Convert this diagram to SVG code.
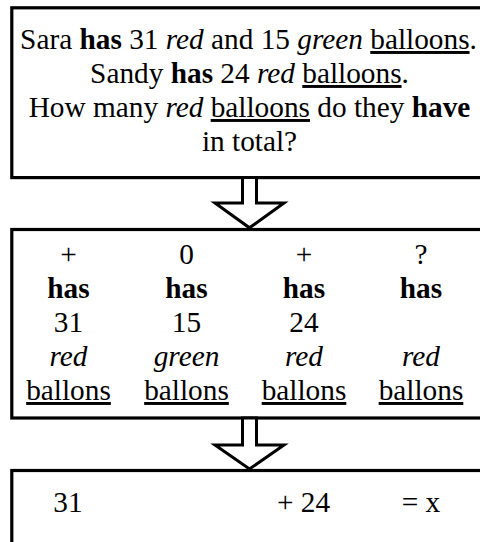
<svg xmlns="http://www.w3.org/2000/svg" width="480" height="542" viewBox="0 0 480 542">
<style>
text{font-size:29.3px;fill:#000;text-anchor:middle}
.b{font-weight:bold}
.i{font-style:italic}
.u{text-decoration:underline}
.box{fill:#fff;stroke:#000;stroke-width:3.2}
.arrow{fill:#fff;stroke:#000;stroke-width:3;stroke-linejoin:miter}
</style>
<rect width="480" height="542" fill="#fff"/>
<g font-family="'Liberation Serif', 'Times New Roman', 'DejaVu Serif', serif">
<g id="node-problem">
<rect class="box" x="11.8" y="7.8" width="476" height="169.8"/>
<text x="248.5" y="49">Sara <tspan class="b">has</tspan> 31 <tspan class="i">red</tspan> and 15 <tspan class="i">green</tspan> <tspan class="u">balloons</tspan>.</text>
<text x="249.5" y="83">Sandy <tspan class="b">has</tspan> 24 <tspan class="i">red</tspan> <tspan class="u">balloons</tspan>.</text>
<text x="249.5" y="117">How many <tspan class="i">red</tspan> <tspan class="u">balloons</tspan> do they <tspan class="b">have</tspan></text>
<text x="249.5" y="151">in total?</text>
</g>
<g id="node-table">
<rect class="box" x="11.8" y="229.5" width="476" height="188.5"/>
<g id="col1">
<text x="68.5" y="264">+</text>
<text x="68.5" y="298" class="b">has</text>
<text x="68.5" y="332">31</text>
<text x="68.5" y="366" class="i">red</text>
<text x="68.5" y="400" class="u">ballons</text>
</g>
<g id="col2">
<text x="186.5" y="264">0</text>
<text x="186.5" y="298" class="b">has</text>
<text x="186.5" y="332">15</text>
<text x="186.5" y="366" class="i">green</text>
<text x="186.5" y="400" class="u">ballons</text>
</g>
<g id="col3">
<text x="304" y="264">+</text>
<text x="304" y="298" class="b">has</text>
<text x="304" y="332">24</text>
<text x="304" y="366" class="i">red</text>
<text x="304" y="400" class="u">ballons</text>
</g>
<g id="col4">
<text x="421" y="264">?</text>
<text x="421" y="298" class="b">has</text>
<text x="421" y="366" class="i">red</text>
<text x="421" y="400" class="u">ballons</text>
</g>
</g>
<g id="node-equation">
<rect class="box" x="11.8" y="470.5" width="476" height="90"/>
<text x="68" y="511.5">31</text>
<text x="303.5" y="511.5">+ 24</text>
<text x="421" y="511.5">= x</text>
</g>
</g>
<g id="connectors">
<polygon class="arrow" points="242.5,177.6 242.5,203 215,203 249.5,227.8 284,203 256.5,203 256.5,177.6"/>
<polygon class="arrow" points="242.5,418 242.5,445 215,445 249.5,469 284,445 256.5,445 256.5,418"/>
</g>
</svg>
